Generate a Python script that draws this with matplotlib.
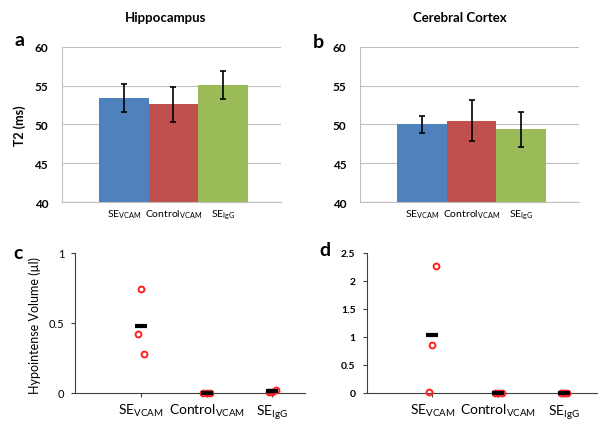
import matplotlib
matplotlib.use('Agg')
import matplotlib.pyplot as plt
import numpy as np

plt.rcParams['font.family'] = ['Lato', 'DejaVu Sans']
plt.rcParams['mathtext.default'] = 'regular'

# T2 bar data (ms)
groups = ['SE$_{VCAM}$', 'Control$_{VCAM}$', 'SE$_{IgG}$']
hippo_t2 = [53.4, 52.6, 55.1]
hippo_err = [1.8, 2.25, 1.8]
cortex_t2 = [50.0, 50.5, 49.4]
cortex_err = [1.1, 2.65, 2.25]
bar_colors = ['#4F81BD', '#C0504D', '#9BBB59']

# hypointense volume (ul), individual animals per group
hippo_vol = [[0.42, 0.74, 0.28], [0.0, 0.0, 0.0], [0.01, 0.01, 0.02]]
cortex_vol = [[0.02, 0.85, 2.26], [0.0, 0.0, 0.0], [0.0, 0.0, 0.0]]
jitter = [-0.05, 0.0, 0.05]

fig = plt.figure(figsize=(6.03, 4.27), dpi=100)

ax_a = fig.add_axes([0.1028, 0.5239, 0.363, 0.3644])
ax_b = fig.add_axes([0.5975, 0.5239, 0.3627, 0.3644])
ax_c = fig.add_axes([0.1249, 0.0773, 0.381, 0.3279])
ax_d = fig.add_axes([0.6081, 0.0773, 0.382, 0.3279])


def bar_panel(ax, vals, errs):
    x = np.arange(len(vals))
    ax.bar(x, vals, width=1.0, color=bar_colors, zorder=2)
    ax.errorbar(x, vals, yerr=errs, fmt='none', ecolor='black',
                elinewidth=1.2, capsize=2, capthick=1.2, zorder=3)
    ax.set_ylim(40, 60)
    ax.set_yticks([40, 45, 50, 55, 60])
    ax.set_xlim(-1.25, 3.17)
    ax.set_xticks(x)
    ax.set_xticklabels(groups, fontsize=7.5)
    ax.yaxis.grid(True, color='#BFBFBF', linewidth=0.8, zorder=0)
    ax.set_axisbelow(True)
    for s in ['top', 'right']:
        ax.spines[s].set_visible(False)
    ax.spines['left'].set_color('#BFBFBF')
    ax.spines['bottom'].set_color('#BFBFBF')
    ax.tick_params(axis='both', length=0)
    ax.tick_params(axis='y', pad=10, labelsize=8.5)
    ax.tick_params(axis='x', pad=4)
    for lab in ax.get_yticklabels():
        lab.set_fontweight('bold')


def dot_panel(ax, data, ymax, yticks, bold):
    for i, vals in enumerate(data):
        xs = [i + 1 + j for j in jitter]
        ax.plot(xs, vals, 'o', mfc='none', mec='#FF2020', ms=4.2, mew=1.4,
                zorder=3, clip_on=False)
        ax.plot([i + 1], [np.mean(vals)], '_', color='black', ms=9, mew=3,
                zorder=4, clip_on=False)
    ax.set_xlim(0, 3.5)
    ax.set_ylim(0, ymax)
    ax.set_xticks([1, 2, 3])
    ax.set_xticklabels(groups, fontsize=10)
    ax.set_yticks(yticks)
    for s in ['top', 'right']:
        ax.spines[s].set_visible(False)
    ax.spines['left'].set_color('#404040')
    ax.spines['bottom'].set_color('#404040')
    ax.tick_params(axis='both', length=3, color='#404040')
    ax.tick_params(axis='y', labelsize=8 if not bold else 7.5, pad=5)
    if bold:
        for lab in ax.get_yticklabels():
            lab.set_fontweight('bold')


bar_panel(ax_a, hippo_t2, hippo_err)
bar_panel(ax_b, cortex_t2, cortex_err)
dot_panel(ax_c, hippo_vol, 1, [0, 0.5, 1], False)
ax_c.set_yticklabels(['0', '0.5', '1'])
dot_panel(ax_d, cortex_vol, 2.5, [0, 0.5, 1, 1.5, 2, 2.5], True)
ax_d.set_yticklabels(['0', '0.5', '1', '1.5', '2', '2.5'])

fig.text(0.275, 0.958, 'Hippocampus', ha='center', va='center',
         fontsize=9.5, fontweight='bold')
fig.text(0.763, 0.958, 'Cerebral Cortex', ha='center', va='center',
         fontsize=9.5, fontweight='bold')
fig.text(0.033, 0.705, 'T2 (ms)', ha='center', va='center', rotation=90,
         fontsize=9, fontweight='bold')
fig.text(0.058, 0.237, 'Hypointense Volume (µl)', ha='center', va='center',
         rotation=90, fontsize=9)

fig.text(0.033, 0.904, 'a', ha='center', va='center', fontsize=14, fontweight='bold')
fig.text(0.528, 0.900, 'b', ha='center', va='center', fontsize=14, fontweight='bold')
fig.text(0.030, 0.407, 'c', ha='center', va='center', fontsize=14, fontweight='bold')
fig.text(0.539, 0.414, 'd', ha='center', va='center', fontsize=14, fontweight='bold')

fig.savefig('out.png', dpi=100)
